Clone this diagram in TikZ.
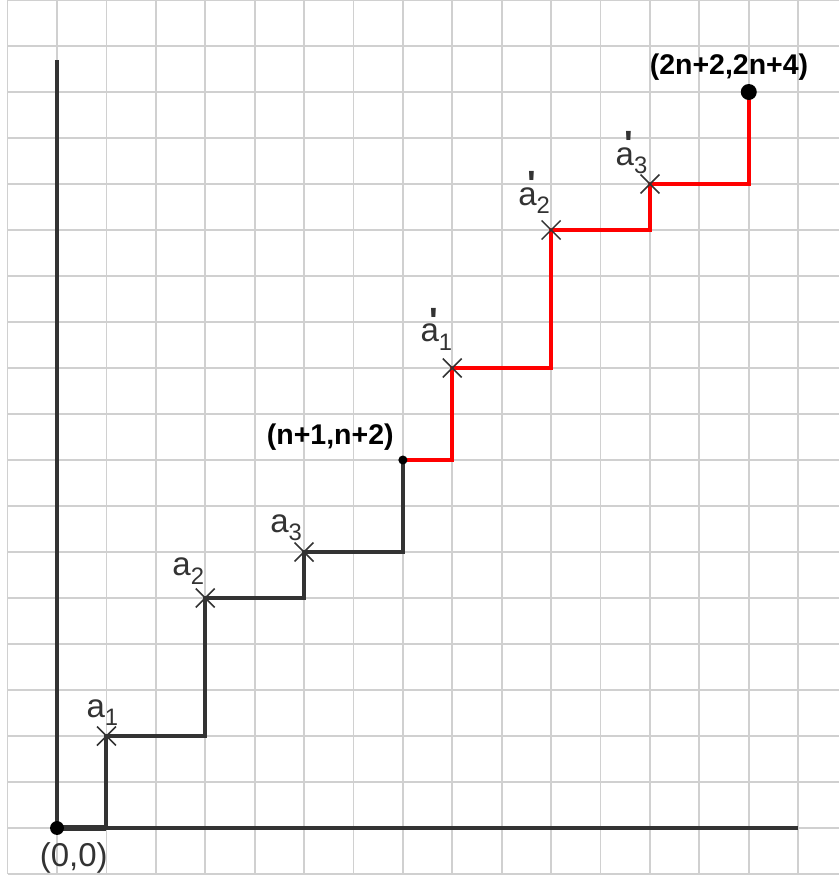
\documentclass[tikz,border=0pt]{standalone}
\usepackage{fontspec}
\setmainfont{Liberation Sans}
\usetikzlibrary{positioning,shapes.misc}
\definecolor{gridgray}{HTML}{D0D0D0}
\definecolor{inkgray}{HTML}{333333}
\newcommand{\lowidx}[1]{\raisebox{-0.26em}{\fontsize{13.7}{14}\selectfont #1}}
\newcommand{\primed}{\llap{\raisebox{0.26em}{\fontsize{21}{21}\selectfont\bfseries\textquotesingle}\kern0.03em}}

\begin{document}
\begin{tikzpicture}[x=1cm, y=0.931cm,
    gridline/.style={draw=gridgray, line width=1pt},
    axis/.style={draw=inkgray, line width=1.9pt},
    lowpath/.style={draw=inkgray, line width=2.3pt},
    highpath/.style={draw=red, line width=2.5pt},
    crossmark/.style={draw=inkgray, cross out, line width=0.9pt, minimum size=10pt, inner sep=0pt},
    tag/.style={font=\fontsize{19}{20}\selectfont, text=inkgray, inner sep=0pt, anchor=base west},
    point/.style={font=\bfseries\fontsize{16.4}{18}\selectfont, text=black, inner sep=0pt}
]
\useasboundingbox (-1.154,-1.152) rectangle (15.83,18.0);
\draw[gridline, step={(1,1)}] (-1,-1) grid (15.83,18);

% axes
\coordinate (o) at (0,0);
\coordinate (xend) at (15,0);
\coordinate (yend) at (0,16.7);
\draw[axis] (o) -- (xend);
\draw[axis] (o) -- (yend);

% lattice path
\coordinate (s) at (1,0);
\coordinate (a1) at (1,2);
\coordinate (a2) at (3,5);
\coordinate (a3) at (5,6);
\coordinate (m) at (7,8);
\coordinate (b1) at (8,10);
\coordinate (b2) at (10,13);
\coordinate (b3) at (12,14);
\coordinate (e) at (14,16);
\draw[inkgray, line width=4pt] (o) -- (s);
\draw[lowpath] (s) -- (a1) -| (a2) -| (a3) -| (m);
\draw[highpath] (m) -| (b1) -| (b2) -| (b3) -| (e);

\node[crossmark] (x1) at (a1) {};
\node[crossmark] (x2) at (a2) {};
\node[crossmark] (x3) at (a3) {};
\node[crossmark] (y1) at (b1) {};
\node[crossmark] (y2) at (b2) {};
\node[crossmark] (y3) at (b3) {};

\fill[black] (o) circle (4pt);
\fill[black] (m) circle (2.6pt);
\fill[black] (e) circle (4.6pt);

% labels
\node[tag] (la1) at (0.59,2.41) {a\lowidx{1}};
\node[tag] (la2) at (2.33,5.48) {a\lowidx{2}};
\node[tag] (la3) at (4.31,6.43) {a\lowidx{3}};
\node[tag] (lb1) at (7.35,10.57) {a\primed\lowidx{1}};
\node[tag] (lb2) at (9.33,13.54) {a\primed\lowidx{2}};
\node[tag] (lb3) at (11.30,14.41) {a\primed\lowidx{3}};
\node[tag, anchor=center] (lo) at (0.34,-0.65) {(0,0)};
\node[point] (lm) at (5.53,8.5) {(n+1,n+2)};
\node[point] (le) at (13.6,16.53) {(2n+2,2n+4)};
\end{tikzpicture}
\end{document}
